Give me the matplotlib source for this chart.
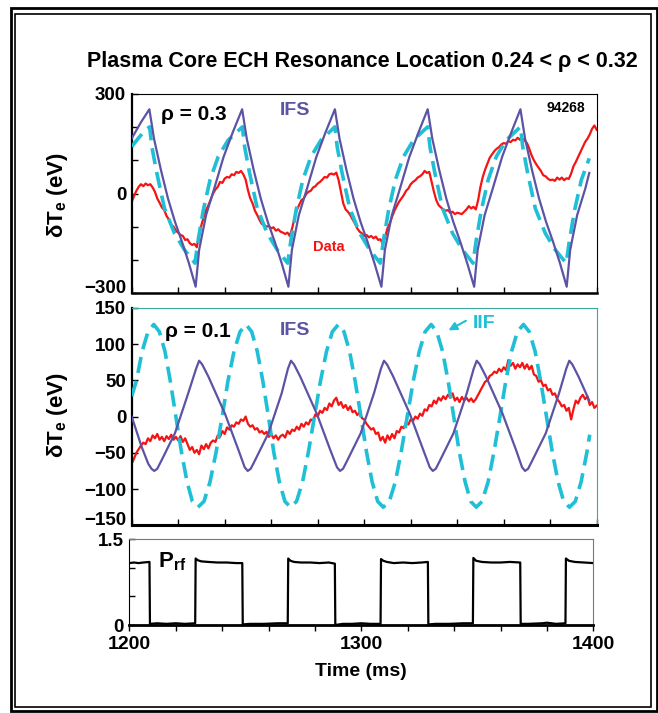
import numpy as np
import matplotlib
matplotlib.use("Agg")
import matplotlib.pyplot as plt
from matplotlib.patches import Rectangle

plt.rcParams['font.family'] = ['Liberation Sans', 'DejaVu Sans']
plt.rcParams['font.weight'] = 'bold'
plt.rcParams['axes.labelweight'] = 'bold'

PURPLE = '#5b53a4'
CYAN = '#1fbfd6'
RED = '#f41414'

# ---- top panel, rho = 0.3 ----
ifs_top_t = [1200, 1204, 1207.6,
             1209.6, 1212.6, 1215.6, 1218.6, 1221.6, 1224.6, 1227.5,
             1229, 1232, 1235.5, 1239.5, 1243.5, 1247.5,
             1249.5, 1252.5, 1255.5, 1258.5, 1261.5, 1264.5, 1267.4,
             1268.9, 1271.9, 1275.4, 1279.4, 1283.4, 1287.4,
             1289.4, 1292.4, 1295.4, 1298.4, 1301.4, 1304.4, 1307.4,
             1308.9, 1311.9, 1315.4, 1319.4, 1323.4, 1327.3,
             1329.3, 1332.3, 1335.3, 1338.3, 1341.3, 1344.3, 1347.3,
             1348.8, 1351.8, 1355.3, 1359.3, 1363.3, 1367.2,
             1369.2, 1372.2, 1375.2, 1378.2, 1381.2, 1384.2, 1387.1,
             1388.6, 1391.6, 1395.1, 1396.8]
ifs_top_v = [166, 215, 254,
             165, 70, -15, -85, -145, -210, -281,
             -170, -65, 15, 110, 185, 254,
             165, 70, -15, -85, -145, -210, -281,
             -170, -65, 15, 110, 185, 254,
             165, 70, -15, -85, -145, -210, -281,
             -170, -65, 15, 110, 185, 254,
             165, 70, -15, -85, -145, -210, -281,
             -170, -65, 15, 110, 185, 254,
             165, 70, -15, -85, -145, -210, -281,
             -170, -65, 15, 62]

iif_top_t = [1200, 1203, 1205.5, 1207.7,
             1208.7, 1210.7, 1214.1, 1218.4, 1222.7, 1227.2,
             1228.6, 1230.8, 1233.7, 1237.2, 1241.5, 1247.6,
             1248.6, 1250.6, 1254.0, 1258.3, 1262.6, 1267.1,
             1268.5, 1270.7, 1273.6, 1277.1, 1281.4, 1287.4,
             1288.4, 1290.4, 1293.8, 1298.1, 1302.4, 1306.9,
             1308.3, 1310.5, 1313.4, 1316.9, 1321.2, 1327.3,
             1328.3, 1330.3, 1333.7, 1338.0, 1342.3, 1346.8,
             1348.2, 1350.4, 1353.3, 1356.8, 1361.1, 1367.2,
             1368.2, 1370.2, 1373.6, 1377.9, 1382.2, 1386.9,
             1388.3, 1390.5, 1393.4, 1396.8]
iif_top_v = [141, 168, 188, 201,
             140, 65, -45, -120, -170, -210,
             -140, -50, 41, 111, 161, 201,
             140, 65, -45, -120, -170, -210,
             -140, -50, 41, 111, 161, 201,
             140, 65, -45, -120, -170, -210,
             -140, -50, 41, 111, 161, 201,
             140, 65, -45, -120, -170, -210,
             -140, -50, 41, 111, 161, 201,
             140, 65, -45, -120, -170, -210,
             -140, -50, 41, 106]

data_top_v = [
    -25, -8, 8, 20, 28, 22, 30, 25, 28, 18,
    5, -15, -28, -42, -50, -68, -78, -95, -100, -112,
    -118, -125, -128, -140, -138, -150, -155, -152, -162, -125,
    -95, -70, -50, -35, -18, 0, 12, 20, 35, 32,
    45, 50, 48, 58, 55, 65, 62, 68, 58, 42,
    10, -15, -30, -52, -65, -80, -92, -95, -100, -98,
    -105, -102, -112, -108, -115, -118, -122, -118, -128, -105,
    -75, -50, -35, -20, -15, -2, 5, 8, 18, 22,
    30, 35, 42, 50, 48, 58, 60, 57, 63, 40,
    5, -30, -48, -55, -65, -78, -90, -105, -115, -120,
    -128, -125, -132, -128, -135, -130, -140, -138, -152, -132,
    -105, -90, -70, -52, -38, -25, -15, -5, 8, 15,
    28, 35, 40, 48, 52, 58, 68, 62, 65, 35,
    5, -20, -35, -42, -48, -52, -50, -58, -55, -62,
    -58, -60, -62, -55, -48, -38, -45, -40, -48, -20,
    20, 50, 72, 90, 108, 118, 128, 135, 140, 148,
    152, 150, 158, 155, 162, 160, 168, 162, 165, 160,
    152, 135, 115, 100, 88, 78, 68, 55, 52, 45,
    40, 42, 38, 48, 42, 48, 40, 46, 44, 60,
    82, 95, 110, 125, 140, 155, 165, 178, 195, 205,
    192]

# ---- middle panel, rho = 0.1 ----
ifs_mid_t = [1200, 1204.3, 1207.1, 1208.5, 1209.7, 1211, 1212.9, 1218.6, 1224.3, 1227.7, 1229, 1230.3, 1233,
             1240.1, 1245.9, 1248.6, 1249.9, 1251.2, 1253.1, 1258.8, 1264.5, 1267.2, 1268.5, 1269.8, 1272.5,
             1279.6, 1285.4, 1288.3, 1289.6, 1290.9, 1292.8, 1298.5, 1304.2, 1307.2, 1308.5, 1309.8, 1312.5,
             1319.6, 1325.4, 1328.2, 1329.5, 1330.8, 1332.7, 1338.4, 1344.1, 1347.1, 1348.4, 1349.7, 1352.4,
             1359.5, 1365.3, 1367.9, 1369.2, 1370.5, 1372.4, 1378.1, 1383.8, 1386.9, 1388.2, 1389.5, 1392.2,
             1396.8]
ifs_mid_v = [0, -42, -65, -72, -75, -72, -60, -23, 32, 66, 77, 72, 55,
             4, -46, -70, -75, -72, -60, -23, 32, 66, 77, 72, 55,
             4, -46, -70, -75, -72, -60, -23, 32, 66, 77, 72, 55,
             4, -46, -70, -75, -72, -60, -23, 32, 66, 77, 72, 55,
             4, -46, -70, -75, -72, -60, -23, 32, 66, 77, 72, 55,
             22]

iif_mid_t = [1200, 1202, 1204.5, 1207, 1209.5,
             1211.9, 1214.3, 1216.6, 1219, 1221.4, 1223.8, 1226.1, 1228.5,
             1231.1, 1233.7, 1236.3, 1238.9, 1241.4, 1244, 1246.6, 1249.2,
             1251.6, 1254, 1256.4, 1258.8, 1261.1, 1263.5, 1265.9, 1268.3,
             1270.9, 1273.5, 1276, 1278.6, 1281.2, 1283.8, 1286.3, 1288.9,
             1291.3, 1293.7, 1296.1, 1298.6, 1301, 1303.4, 1305.8, 1308.2,
             1310.8, 1313.4, 1315.9, 1318.5, 1321.1, 1323.7, 1326.2, 1328.8,
             1331.2, 1333.7, 1336.1, 1338.5, 1340.9, 1343.4, 1345.8, 1348.2,
             1350.7, 1353.3, 1355.8, 1358.4, 1360.9, 1363.4, 1365.9, 1368.5,
             1371, 1373.5, 1375.9, 1378.4, 1380.9, 1383.4, 1385.8, 1388.3,
             1390.8, 1393.3, 1395.8, 1397]
iif_mid_v = [28, 49, 90, 117, 127,
             117, 90, 49, 0, -49, -90, -117, -125,
             -117, -90, -49, 0, 49, 90, 117, 127,
             117, 90, 49, 0, -49, -90, -117, -125,
             -117, -90, -49, 0, 49, 90, 117, 127,
             117, 90, 49, 0, -49, -90, -117, -125,
             -117, -90, -49, 0, 49, 90, 117, 127,
             117, 90, 49, 0, -49, -90, -117, -125,
             -117, -90, -49, 0, 49, 90, 117, 127,
             117, 90, 49, 0, -49, -90, -117, -125,
             -117, -90, -49, -25]

data_mid_v = [
    -65, -58, -50, -45, -40, -36, -38, -30, -34, -26,
    -30, -24, -32, -28, -34, -27, -31, -25, -32, -28,
    -33, -27, -35, -30, -38, -46, -42, -50, -46, -52,
    -40, -45, -38, -44, -36, -33, -35, -26, -28, -20,
    -24, -15, -18, -12, -14, -8, -10, -4, -6, 0,
    -10, -14, -12, -18, -16, -22, -20, -24, -21, -28,
    -24, -30, -26, -32, -27, -25, -29, -20, -24, -18,
    -20, -14, -18, -10, -14, -8, -11, -4, -6, 3,
    0, 8, 5, 12, 9, 18, 14, 22, 26, 16,
    20, 12, 16, 9, 14, 6, 8, 2, 6, -2,
    -4, -10, -14, -18, -16, -24, -22, -33, -28, -36,
    -26, -32, -24, -30, -20, -22, -14, -16, -8, -11,
    -4, -6, 0, -3, 4, 1, 10, 8, 16, 14,
    22, 18, 26, 22, 28, 24, 30, 26, 32, 22,
    26, 20, 27, 22, 26, 21, 25, 20, 24, 30,
    36, 42, 48, 50, 56, 58, 62, 60, 66, 62,
    68, 64, 78, 70, 74, 66, 72, 68, 74, 66,
    72, 65, 70, 58, 56, 48, 50, 42, 44, 36,
    38, 30, 32, 24, 20, 14, 16, 8, 12, -4,
    10, 22, 18, 26, 30, 24, 28, 16, 20, 12,
    15]

data_t = np.arange(1200, 1401, 1)

# ---- bottom panel, P_rf ----
prf_t = [1200, 1202, 1204, 1206, 1208.7, 1208.9, 1212, 1216, 1220, 1224, 1228.4,
         1228.6, 1229.5, 1231, 1234, 1238, 1242, 1246, 1248.7, 1248.9, 1252, 1258, 1264, 1268.3,
         1268.5, 1269.5, 1271, 1274, 1278, 1282, 1286, 1288.6, 1288.8, 1292, 1296, 1300, 1304, 1308.3,
         1308.5, 1309.5, 1311, 1314, 1318, 1322, 1326, 1328.7, 1328.9, 1332, 1338, 1344, 1348.1,
         1348.3, 1349.5, 1352, 1356, 1360, 1364, 1368.5, 1368.7, 1372, 1378, 1380, 1384, 1388,
         1388.2, 1389.5, 1392, 1396, 1400]
prf_v = [1.08, 1.09, 1.08, 1.09, 1.10, 0.02, 0.03, 0.02, 0.03, 0.02, 0.03,
         1.16, 1.13, 1.11, 1.10, 1.09, 1.09, 1.08, 1.08, 0.01, 0.02, 0.02, 0.03, 0.03,
         1.16, 1.12, 1.10, 1.09, 1.09, 1.08, 1.09, 1.07, 0.0, 0.02, 0.02, 0.03, 0.02, 0.02,
         1.15, 1.12, 1.10, 1.08, 1.09, 1.08, 1.09, 1.10, 0.01, 0.02, 0.02, 0.03, 0.03,
         1.17, 1.12, 1.10, 1.09, 1.09, 1.10, 1.09, 0.02, 0.02, 0.03, 0.04, 0.02, 0.03,
         1.16, 1.12, 1.10, 1.09, 1.08]

W, H = 658, 713
fig = plt.figure(figsize=(W / 100, H / 100), dpi=100)


def rect(l, t, r, b):
    return [l / W, 1 - b / H, (r - l) / W, (b - t) / H]


ax1 = fig.add_axes(rect(131.7, 94, 596.7, 293))
ax2 = fig.add_axes(rect(131.7, 307.8, 596.7, 525.3))
ax3 = fig.add_axes(rect(129.3, 539, 593.3, 625))

# top
ax1.plot(data_t, data_top_v, color=RED, lw=1.6, zorder=2)
ax1.plot(iif_top_t, iif_top_v, color=CYAN, lw=2.6, dashes=(4.5, 2.2), zorder=3)
ax1.plot(ifs_top_t, ifs_top_v, color=PURPLE, lw=1.6, zorder=4)
ax1.set_xlim(1200, 1400)
ax1.set_ylim(-300, 300)
ax1.set_yticks([-300, -200, -100, 0, 100, 200, 300])
ax1.set_yticklabels(['\u2212300', '', '', '0', '', '', '300'])
ax1.get_yticklabels()[0].set_va('baseline')
ax1.set_xticks(np.arange(1200, 1401, 20))
ax1.set_xticklabels([])
ax1.text(0.134, 0.899, '\u03c1 = 0.3', transform=ax1.transAxes, ha='center', va='center', fontsize=15)
ax1.text(0.351, 0.916, 'IFS', transform=ax1.transAxes, ha='center', va='center', fontsize=14, color=PURPLE)
ax1.text(0.934, 0.928, '94268', transform=ax1.transAxes, ha='center', va='center', fontsize=10)
ax1.text(0.424, 0.229, 'Data', transform=ax1.transAxes, ha='center', va='center', fontsize=10.5, color=RED)

# middle
ax2.plot(data_t, data_mid_v, color=RED, lw=1.6, zorder=2)
ax2.plot(iif_mid_t, iif_mid_v, color=CYAN, lw=2.6, dashes=(4.5, 2.2), zorder=3)
ax2.plot(ifs_mid_t, ifs_mid_v, color=PURPLE, lw=1.6, zorder=4)
ax2.set_xlim(1200, 1400)
ax2.set_ylim(-150, 150)
ax2.set_yticks([-150, -100, -50, 0, 50, 100, 150])
ax2.set_yticklabels(['\u2212150', '\u2212100', '\u221250', '0', '50', '100', '150'])
ax2.get_yticklabels()[0].set_va('baseline')
ax2.set_xticks(np.arange(1200, 1401, 20))
ax2.set_xticklabels([])
ax2.text(0.143, 0.890, '\u03c1 = 0.1', transform=ax2.transAxes, ha='center', va='center', fontsize=15)
ax2.text(0.351, 0.894, 'IFS', transform=ax2.transAxes, ha='center', va='center', fontsize=14, color=PURPLE)
ax2.text(0.758, 0.928, 'IIF', transform=ax2.transAxes, ha='center', va='center', fontsize=14, color=CYAN)
ax2.annotate('', xy=(1335.2, 117), xytext=(1344.8, 134),
             arrowprops=dict(arrowstyle='-|>', color=CYAN, lw=1.5, mutation_scale=12))
for s in ['top', 'right']:
    ax2.spines[s].set_color('#3aa89c')
    ax2.spines[s].set_linewidth(0.8)
ax2.spines['bottom'].set_linewidth(2.2)

# bottom
ax3.plot(prf_t, prf_v, color='black', lw=1.6)
ax3.set_xlim(1200, 1400)
ax3.set_ylim(0, 1.5)
ax3.set_yticks([0, 0.5, 1.0, 1.5])
ax3.set_yticklabels(['0', '', '', '1.5'])
ax3.set_xticks(np.arange(1200, 1401, 20))
ax3.set_xticklabels(['1200', '', '', '', '', '1300', '', '', '', '', '1400'])
ax3.text(0.0625, 0.674, 'P$_\\mathregular{rf}$', transform=ax3.transAxes, ha='left', va='baseline', fontsize=16)
ax3.set_xlabel('Time (ms)', fontsize=14, labelpad=7)
for s in ['top', 'right']:
    ax3.spines[s].set_color('#777777')
    ax3.spines[s].set_linewidth(0.8)
ax3.spines['bottom'].set_linewidth(2)

for ax in (ax1, ax2):
    ax.tick_params(axis='both', direction='in', length=4, width=1, labelsize=13.5, pad=4)
    ax.spines['left'].set_linewidth(1.6)
ax1.spines['bottom'].set_linewidth(1.8)
ax3.tick_params(axis='y', direction='in', length=4, width=1, labelsize=13.5, pad=4)
ax3.tick_params(axis='x', direction='out', length=4, width=1, labelsize=14, pad=4)

fig.text(58 / W, 1 - 195 / H, '\u03b4T$_\\mathregular{e}$ (eV)', rotation=90, ha='center', va='center', fontsize=16)
fig.text(58 / W, 1 - 415 / H, '\u03b4T$_\\mathregular{e}$ (eV)', rotation=90, ha='center', va='center', fontsize=16)
fig.text(362 / W, 1 - 62 / H, 'Plasma Core ECH Resonance Location 0.24 < \u03c1 < 0.32',
         ha='center', va='center', fontsize=15.5)

# double frame round the figure
fig.patches.append(Rectangle((11 / W, 1 - 711 / H), 646 / W, 703 / H, transform=fig.transFigure,
                             fill=False, lw=2, ec='black'))
fig.patches.append(Rectangle((15 / W, 1 - 707 / H), 636 / W, 693 / H, transform=fig.transFigure,
                             fill=False, lw=1.2, ec='black'))

fig.savefig('out.png', dpi=100)
